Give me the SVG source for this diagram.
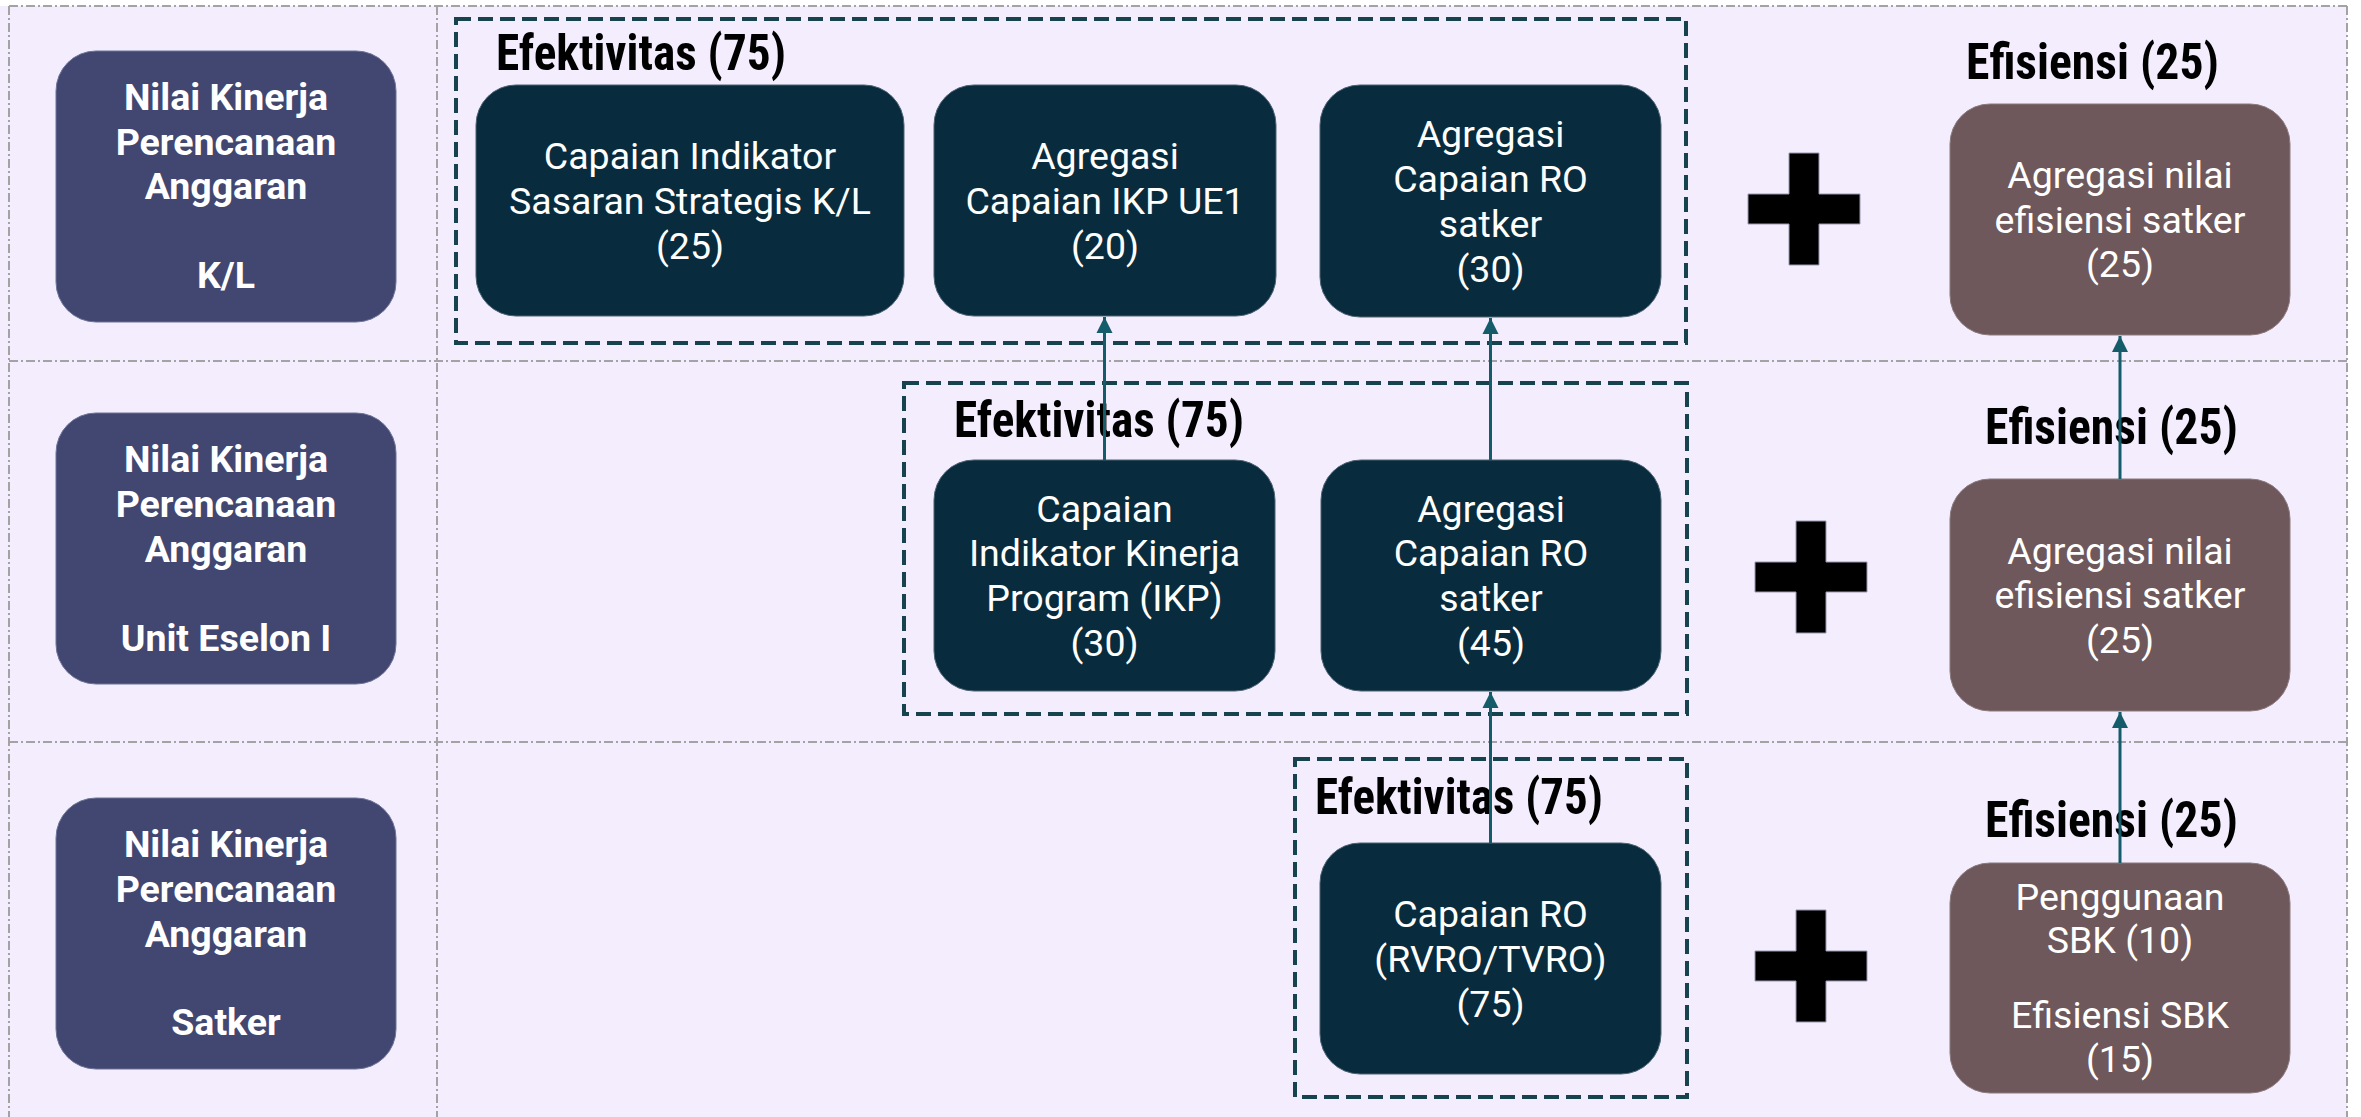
<svg xmlns="http://www.w3.org/2000/svg" width="2361" height="1117" viewBox="0 0 2361 1117">
<style>
.grid{stroke:#a3a3a3;stroke-width:2;stroke-dasharray:9 3 2 3;fill:none}
.dbox{fill:none;stroke:#17434f;stroke-width:4;stroke-dasharray:15 7}
.lvl{fill:#414770;stroke:#6d7396;stroke-width:1}
.dark{fill:#082c3e;stroke:#4c6272;stroke-width:1}
.eff{fill:#6e585b;stroke:#8a7a7d;stroke-width:1}
.lt{font-family:Roboto,"Liberation Sans",sans-serif;font-weight:bold;font-size:37.5px;fill:#fff;text-anchor:middle}
.bt{font-family:Roboto,"Liberation Sans",sans-serif;font-size:37.5px;fill:#fff;text-anchor:middle}
.hd{font-family:"Roboto Condensed",Roboto,"Liberation Sans",sans-serif;font-stretch:condensed;font-weight:bold;font-size:50px;fill:#000}
.conn{stroke:#155c6b;stroke-width:3;fill:none;marker-end:url(#ah)}
</style>
<defs>
<marker id="ah" markerUnits="userSpaceOnUse" markerWidth="18" markerHeight="18" viewBox="0 0 18 18" refX="16" refY="9" orient="auto">
<path d="M0,1 L16,9 L0,17 z" fill="#155c6b"/>
</marker>
<path id="plus" d="M-15,-56 h30 v41 h41 v30 h-41 v41 h-30 v-41 h-41 v-30 h41 z" fill="#000" stroke="#9a98b0" stroke-width="1"/>
</defs>
<rect x="0" y="0" width="2361" height="1117" fill="#ffffff"/>
<rect x="0" y="6" width="2347" height="1111" fill="#f4edfd"/>
<g id="grid">
<line class="grid" x1="9" y1="6" x2="2347" y2="6"/>
<line class="grid" x1="9" y1="361" x2="2347" y2="361"/>
<line class="grid" x1="9" y1="742" x2="2347" y2="742"/>
<line class="grid" x1="9" y1="6" x2="9" y2="1117"/>
<line class="grid" x1="437" y1="6" x2="437" y2="1117"/>
<line class="grid" x1="2347" y1="6" x2="2347" y2="1117"/>
</g>
<g id="level-kl">
<rect class="lvl" x="56" y="51" width="340" height="271" rx="40"/>
<text class="lt"><tspan x="226" y="110">Nilai Kinerja</tspan><tspan x="226" y="154.5">Perencanaan</tspan><tspan x="226" y="199">Anggaran</tspan><tspan x="226" y="288">K/L</tspan></text>
</g>
<g id="level-ue1">
<rect class="lvl" x="56" y="413" width="340" height="271" rx="40"/>
<text class="lt"><tspan x="226" y="472">Nilai Kinerja</tspan><tspan x="226" y="517">Perencanaan</tspan><tspan x="226" y="562">Anggaran</tspan><tspan x="226" y="651">Unit Eselon I</tspan></text>
</g>
<g id="level-satker">
<rect class="lvl" x="56" y="798" width="340" height="271" rx="40"/>
<text class="lt"><tspan x="226" y="857">Nilai Kinerja</tspan><tspan x="226" y="902">Perencanaan</tspan><tspan x="226" y="947">Anggaran</tspan><tspan x="226" y="1035">Satker</tspan></text>
</g>
<g id="efektivitas-kl">
<rect class="dbox" x="456" y="19" width="1230" height="324"/>
<text class="hd" x="496" y="70" textLength="290" lengthAdjust="spacingAndGlyphs">Efektivitas (75)</text>
</g>
<g id="node-iss">
<rect class="dark" x="476" y="85" width="428" height="231" rx="40"/>
<text class="bt"><tspan x="690" y="168.5">Capaian Indikator</tspan><tspan x="690" y="213.5">Sasaran Strategis K/L</tspan><tspan x="690" y="258.5">(25)</tspan></text>
</g>
<g id="node-ikp-ue1">
<rect class="dark" x="934" y="85" width="342" height="231" rx="40"/>
<text class="bt"><tspan x="1105" y="168.5">Agregasi</tspan><tspan x="1105" y="213.5">Capaian IKP UE1</tspan><tspan x="1105" y="258.5">(20)</tspan></text>
</g>
<g id="node-ro-kl">
<rect class="dark" x="1320" y="85" width="341" height="232" rx="40"/>
<text class="bt"><tspan x="1490.5" y="147">Agregasi</tspan><tspan x="1490.5" y="192">Capaian RO</tspan><tspan x="1490.5" y="237">satker</tspan><tspan x="1490.5" y="282">(30)</tspan></text>
</g>
<g id="efisiensi-kl">
<text class="hd" x="1966" y="79" textLength="253" lengthAdjust="spacingAndGlyphs">Efisiensi (25)</text>
<rect class="eff" x="1950" y="104" width="340" height="231" rx="40"/>
<text class="bt"><tspan x="2120" y="188">Agregasi nilai</tspan><tspan x="2120" y="232.5">efisiensi satker</tspan><tspan x="2120" y="277">(25)</tspan></text>
</g>
<g id="efektivitas-ue1">
<rect class="dbox" x="904" y="383" width="783" height="331"/>
<text class="hd" x="954" y="437" textLength="290" lengthAdjust="spacingAndGlyphs">Efektivitas (75)</text>
</g>
<g id="node-ikp">
<rect class="dark" x="934" y="460" width="341" height="231" rx="40"/>
<text class="bt"><tspan x="1104.5" y="521.5">Capaian</tspan><tspan x="1104.5" y="566">Indikator Kinerja</tspan><tspan x="1104.5" y="611">Program (IKP)</tspan><tspan x="1104.5" y="655.5">(30)</tspan></text>
</g>
<g id="node-ro-ue1">
<rect class="dark" x="1321" y="460" width="340" height="231" rx="40"/>
<text class="bt"><tspan x="1491" y="521.5">Agregasi</tspan><tspan x="1491" y="566">Capaian RO</tspan><tspan x="1491" y="611">satker</tspan><tspan x="1491" y="655.5">(45)</tspan></text>
</g>
<g id="efisiensi-ue1">
<text class="hd" x="1985" y="444" textLength="253" lengthAdjust="spacingAndGlyphs">Efisiensi (25)</text>
<rect class="eff" x="1950" y="479" width="340" height="232" rx="40"/>
<text class="bt"><tspan x="2120" y="563.5">Agregasi nilai</tspan><tspan x="2120" y="608">efisiensi satker</tspan><tspan x="2120" y="652.5">(25)</tspan></text>
</g>
<g id="efektivitas-satker">
<rect class="dbox" x="1295" y="759" width="392" height="338"/>
<text class="hd" x="1315" y="814" textLength="288" lengthAdjust="spacingAndGlyphs">Efektivitas (75)</text>
</g>
<g id="node-ro">
<rect class="dark" x="1320" y="843" width="341" height="231" rx="40"/>
<text class="bt"><tspan x="1490.5" y="926.5">Capaian RO</tspan><tspan x="1490.5" y="971.5">(RVRO/TVRO)</tspan><tspan x="1490.5" y="1016.5">(75)</tspan></text>
</g>
<g id="efisiensi-satker">
<text class="hd" x="1985" y="837" textLength="253" lengthAdjust="spacingAndGlyphs">Efisiensi (25)</text>
<rect class="eff" x="1950" y="863" width="340" height="230" rx="40"/>
<text class="bt"><tspan x="2120" y="910">Penggunaan</tspan><tspan x="2120" y="953">SBK (10)</tspan><tspan x="2120" y="1028">Efisiensi SBK</tspan><tspan x="2120" y="1072">(15)</tspan></text>
</g>
<g id="plus-signs">
<use href="#plus" x="1804" y="209"/>
<use href="#plus" x="1811" y="577"/>
<use href="#plus" x="1811" y="966"/>
</g>
<g id="connectors">
<line class="conn" x1="1104.5" y1="460" x2="1104.5" y2="317"/>
<line class="conn" x1="1490.5" y1="460" x2="1490.5" y2="318"/>
<line class="conn" x1="1490.5" y1="843" x2="1490.5" y2="692"/>
<line class="conn" x1="2120" y1="479" x2="2120" y2="336"/>
<line class="conn" x1="2120" y1="863" x2="2120" y2="712"/>
</g>
</svg>
